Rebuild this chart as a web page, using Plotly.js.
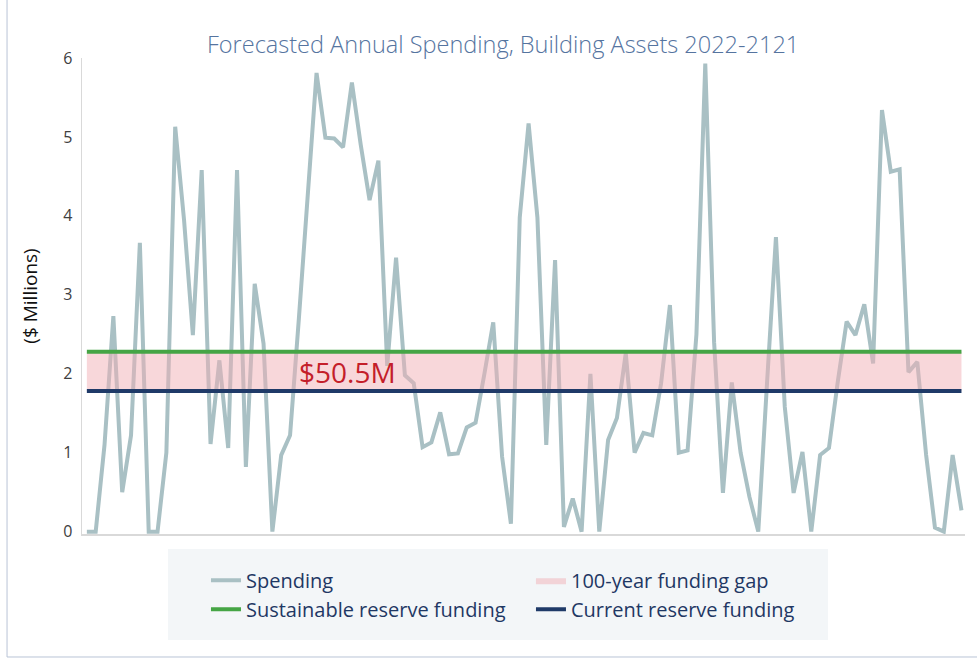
<!DOCTYPE html>
<html>
<head>
<meta charset="utf-8">
<script src="https://cdn.plot.ly/plotly-3.0.1.min.js"></script>
<style>html,body{margin:0;padding:0;background:#fff;}#chart{width:977px;height:660px;}</style>
</head>
<body>
<div id="chart"></div>
<script>
// ---- data ----
const years = [2022,2023,2024,2025,2026,2027,2028,2029,2030,2031,
  2032,2033,2034,2035,2036,2037,2038,2039,2040,2041,
  2042,2043,2044,2045,2046,2047,2048,2049,2050,2051,
  2052,2053,2054,2055,2056,2057,2058,2059,2060,2061,
  2062,2063,2064,2065,2066,2067,2068,2069,2070,2071,
  2072,2073,2074,2075,2076,2077,2078,2079,2080,2081,
  2082,2083,2084,2085,2086,2087,2088,2089,2090,2091,
  2092,2093,2094,2095,2096,2097,2098,2099,2100,2101,
  2102,2103,2104,2105,2106,2107,2108,2109,2110,2111,
  2112,2113,2114,2115,2116,2117,2118,2119,2120,2121];
const spending = [0,0,1.1,2.73,0.5,1.22,3.66,0,0,1.0,
  5.13,3.95,2.49,4.58,1.11,2.17,1.06,4.58,0.82,3.14,
  2.38,0,0.97,1.22,2.7,4.2,5.81,4.99,4.98,4.87,
  5.69,4.9,4.2,4.7,2.1,3.47,1.98,1.88,1.07,1.13,
  1.51,0.98,0.99,1.32,1.38,2.0,2.65,0.95,0.1,3.98,
  5.17,3.98,1.1,3.44,0.06,0.42,0,2.0,0,1.16,
  1.44,2.26,1.0,1.25,1.22,1.88,2.87,1.0,1.03,2.5,
  5.93,2.4,0.49,1.89,1.0,0.44,0,1.9,3.73,1.58,
  0.49,1.01,0,0.97,1.06,1.9,2.66,2.49,2.88,2.13,
  5.34,4.56,4.59,2.02,2.15,0.97,0.05,0,0.97,0.27];
const reserveYears = [2022, 2121];
const sustainableFunding = [2.28, 2.28];
const currentFunding = [1.78, 1.78];
const yTicks = [0,1,2,3,4,5,6];
const gapLabel = "$50.5M";
const gapLabelPos = {x: 2045.8, y: 2.02};

const legendFont = {family: "Open Sans, sans-serif", size: 20, color: "#1f3864"};

const traces = [
  {x: years, y: spending, name: "Spending", type: "scatter", mode: "lines",
   line: {color: "#a9c0c4", width: 4}},
  {x: reserveYears, y: currentFunding, type: "scatter", mode: "lines",
   line: {width: 0, color: "rgba(0,0,0,0)"}, showlegend: false, hoverinfo: "skip"},
  {x: reserveYears, y: sustainableFunding, name: "100-year funding gap", type: "scatter", mode: "lines",
   line: {width: 0, color: "rgba(0,0,0,0)"}, fill: "tonexty", fillcolor: "rgba(242,176,182,0.5)"},
  {x: reserveYears, y: sustainableFunding, name: "Sustainable reserve funding", type: "scatter", mode: "lines",
   line: {color: "#45a545", width: 4}},
  {x: reserveYears, y: currentFunding, name: "Current reserve funding", type: "scatter", mode: "lines",
   line: {color: "#1f3a68", width: 4}}
];

const layout = {
  width: 977, height: 660,
  margin: {l: 82, r: 12, t: 58, b: 126},
  paper_bgcolor: "#ffffff", plot_bgcolor: "rgba(0,0,0,0)",
  font: {family: "Open Sans, sans-serif"},
  title: {text: "Forecasted Annual Spending, Building Assets 2022-2121",
    font: {family: "Open Sans, sans-serif", size: 23.5, color: "#55749f", weight: 300},
    x: 0.515, xref: "container", xanchor: "center",
    y: 0.932, yref: "container", yanchor: "middle"},
  xaxis: {range: [2021.45, 2121.4], showgrid: false, zeroline: false, showticklabels: false,
    ticks: "", showline: true, linecolor: "#d9d9d9", linewidth: 2, fixedrange: true},
  yaxis: {range: [-0.03, 6], tickvals: yTicks, ticktext: yTicks.map(String),
    showgrid: false, zeroline: false, ticks: "", showline: true, linecolor: "#d9d9d9", linewidth: 1.5,
    ticklabelstandoff: 5,
    tickfont: {family: "Open Sans, sans-serif", size: 16, color: "#404040"},
    title: {text: "($ Millions)", font: {family: "Open Sans, sans-serif", size: 19, color: "#111111"}, standoff: 20},
    fixedrange: true},
  showlegend: true,
  legend: {orientation: "h", traceorder: "normal", x: 0.1404, xanchor: "left", y: -0.0563, yanchor: "top",
    bgcolor: "rgba(0,0,0,0)", font: legendFont, entrywidth: 280, itemclick: false, itemdoubleclick: false},
  shapes: [
    {type: "rect", xref: "paper", yref: "paper", x0: 0.0974, x1: 0.8448, y0: -0.0315, y1: -0.2227,
     fillcolor: "#f3f6f8", line: {width: 0}, layer: "below"},
    {type: "line", xref: "paper", yref: "paper", x0: -0.0849, x1: -0.0849, y0: -0.2584, y1: 1.125,
     line: {color: "#b9c4d6", width: 1}},
    {type: "line", xref: "paper", yref: "paper", x0: -0.0849, x1: 1.0136, y0: -0.2584, y1: -0.2584,
     line: {color: "#b9c4d6", width: 1}}
  ],
  annotations: [
    {x: gapLabelPos.x, y: gapLabelPos.y, xref: "x", yref: "y", text: gapLabel, showarrow: false,
     xanchor: "left", yanchor: "middle",
     font: {family: "Open Sans, sans-serif", size: 28, color: "#c41e2a"}}
  ],
  hovermode: false
};

Plotly.newPlot("chart", traces, layout, {displayModeBar: false, staticPlot: true});
</script>
</body>
</html>
